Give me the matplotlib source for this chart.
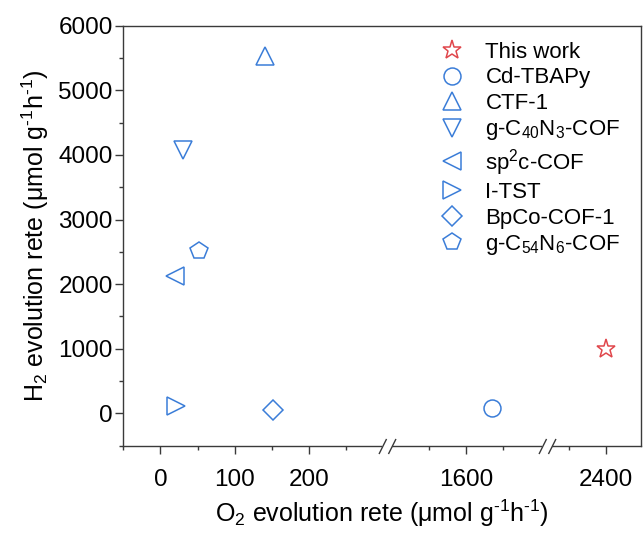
import numpy as np
import matplotlib
matplotlib.use('Agg')
import matplotlib.pyplot as plt
from matplotlib.path import Path
from matplotlib import transforms
from matplotlib.ticker import FixedLocator, MultipleLocator

plt.rcParams['font.family'] = ['Liberation Sans', 'DejaVu Sans']
plt.rcParams['mathtext.fontset'] = 'custom'
plt.rcParams['mathtext.rm'] = 'Liberation Sans'
plt.rcParams['mathtext.it'] = 'Liberation Sans:italic'
plt.rcParams['mathtext.bf'] = 'Liberation Sans:bold'

# photocatalysts compared by O2 / H2 evolution rate
names = ['This work', 'Cd-TBAPy', 'CTF-1', 'g-C$_{40}$N$_3$-COF', 'sp$^2$c-COF',
         'I-TST', 'BpCo-COF-1', 'g-C$_{54}$N$_6$-COF']
o2_rate = [2400, 1635, 140, 30, 19, 21, 152, 52]
h2_rate = [1000, 80, 5530, 4080, 2120, 120, 55, 2520]

x_major = [0, 100, 200, 1600, 2400]
x_minor = [-50, 50, 150, 250, 1550, 1650, 2350]

markers = ['*', 'o', '^', 'v', '<', '>', 'D', 'p']
sizes = [14, 12.2, 13.5, 13.5, 13.5, 13.5, 10.5, 13]
red = '#e0474c'
blue = '#3b7dd8'
colors = [red] + [blue] * 7

# broken O2 axis: kept pieces (-50..305), (1494..1708), (2320..2447)
seg_data = [-50, 305, 1494, 1708, 2320, 2447]
seg_axis = [-50, 305, 305.001, 519, 519.001, 646]
breaks = [305, 1708]


def fwd(x):
    return np.interp(x, seg_data, seg_axis)


def inv(u):
    return np.interp(u, seg_axis, seg_data)


fig = plt.figure(figsize=(6.43, 5.33), dpi=100)
ax = fig.add_axes([0.1916, 0.1638, 0.9969 - 0.1916, 0.9518 - 0.1638])
ax.set_xscale('function', functions=(fwd, inv))

for x, y, m, s, c, lab in zip(o2_rate, h2_rate, markers, sizes, colors, names):
    ax.plot([x], [y], linestyle='none', marker=m, markersize=s,
            markerfacecolor='none', markeredgecolor=c, markeredgewidth=1.1,
            label=lab)

ax.set_xlim(-50, 2447)
ax.set_ylim(-500, 6000)
ax.xaxis.set_major_locator(FixedLocator(x_major))
ax.xaxis.set_minor_locator(FixedLocator(x_minor))
ax.yaxis.set_major_locator(MultipleLocator(1000))
ax.yaxis.set_minor_locator(MultipleLocator(500))
ax.xaxis.set_major_formatter(matplotlib.ticker.FuncFormatter(lambda v, p: f'{v:.0f}'))

spine_col = '#3a3a3a'
for sp in ax.spines.values():
    sp.set_color(spine_col)
    sp.set_linewidth(1.0)
ax.tick_params(which='both', direction='out', color=spine_col, width=1.0,
               labelsize=17.5, top=False, right=False)
ax.tick_params(which='major', length=5.5)
ax.tick_params(which='minor', length=3)
ax.tick_params(axis='y', pad=2)
ax.tick_params(axis='x', pad=11)

unit = '(μmol g$^{\\text{-1}}$h$^{\\text{-1}}$)'
ax.set_xlabel('O$_2$ evolution rete ' + unit, fontsize=18, labelpad=5)
ax.set_ylabel('H$_2$ evolution rete ' + unit, fontsize=18, labelpad=5)

# "//" break marks on the bottom axis
slash = Path([(-9, -8), (-1, 8), (1, -8), (9, 8)],
             [Path.MOVETO, Path.LINETO, Path.MOVETO, Path.LINETO])
trans = transforms.blended_transform_factory(ax.transData, ax.transAxes)
for xb in breaks:
    ax.plot([xb], [0], transform=trans, marker='_', markersize=7,
            markeredgewidth=3, color='white', clip_on=False, zorder=5)
    ax.plot([xb], [0], transform=trans, marker=slash, markersize=12.2,
            markeredgewidth=1.0, color=spine_col, clip_on=False, zorder=6)

ax.legend(loc='upper left', bbox_to_anchor=(441 / 643, 1 - 42 / 533),
          bbox_transform=fig.transFigure, frameon=False, fontsize=16,
          handlelength=1.0, handletextpad=1.0, borderpad=0, labelspacing=0.2,
          numpoints=1, borderaxespad=0)

fig.savefig('out.png', dpi=100)
